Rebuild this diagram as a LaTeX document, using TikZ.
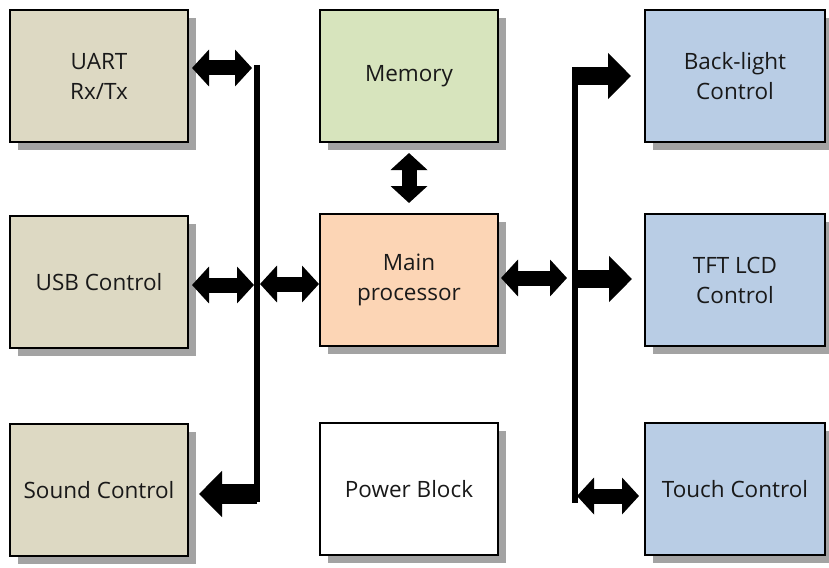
\documentclass[tikz,border=0pt]{standalone}
\usepackage{fontspec}
\setmainfont{Open Sans}
\usetikzlibrary{positioning,calc,arrows.meta,shadows}
\definecolor{boxtan}{HTML}{DDD9C3}
\definecolor{boxgreen}{HTML}{D7E4BD}
\definecolor{boxpeach}{HTML}{FCD5B5}
\definecolor{boxblue}{HTML}{B9CDE5}

\begin{document}
\begin{tikzpicture}[x=1pt,y=-1pt,
block/.style={draw,line width=2pt,minimum width=178pt,minimum height=132pt,align=center,
  font=\fontsize{22.5}{30}\selectfont,text=black!90,
  drop shadow={shadow xshift=8pt,shadow yshift=-8pt,fill=black!40,opacity=0.9}},
bus/.style={line width=6pt},
dbl/.style={line width=15pt,{Triangle[width=36pt,length=17pt]}-{Triangle[width=36pt,length=17pt]}},
sgl/.style={line width=18pt,-{Triangle[width=45pt,length=23pt]}}]
\useasboundingbox (0,0) rectangle (829,567);
% nodes
  \node[block,fill=boxtan] (uart) at (99,76) {UART\\Rx/Tx};
  \node[block,fill=boxtan] (usb) [below=72pt of uart] {USB Control};
  \node[block,fill=boxtan] (sound) [below=74pt of usb] {Sound Control};
  \node[block,fill=boxgreen] (mem) [right=130pt of uart] {Memory};
  \node[block,fill=boxpeach] (main) [below=70pt of mem] {Main\\processor};
  \node[block,fill=white] (power) [below=75pt of main] {Power Block};
  \node[block,fill=boxblue,minimum width=180pt] (light) [right=145pt of mem] {Back-light\\Control};
  \node[block,fill=boxblue,minimum width=180pt] (tft) [below=70pt of light] {TFT LCD\\Control};
  \node[block,fill=boxblue,minimum width=180pt] (touch) [below=75pt of tft] {Touch Control};
% buses
  \coordinate (lt) at (257,65);
  \coordinate (lb) at (257,502);
  \coordinate (rt) at (575,67);
  \coordinate (rb) at (575,503);
  \draw[bus] (lt) -- (lb);
  \draw[bus] (rt) -- (rb);
% edges
  \draw[dbl] ($(uart.east)+(3,-8)$) -- ($(uart.east -| lt)+(-5,-8)$);
  \draw[dbl] ($(usb.east)+(3,3)$) -- ($(usb.east -| lt)+(-3,3)$);
  \draw[dbl] ($(main.west -| lt)+(3,4)$) -- ($(main.west)+(0,4)$);
  \draw[sgl,line width=20pt] ($(sound.east -| lb)+(0,4)$) -- ($(sound.east)+(10,4)$);
  \draw[dbl] ($(mem.south)+(0,10)$) -- ($(main.north)+(0,-10)$);
  \draw[dbl] ($(main.east)+(2,-2)$) -- ($(main.east -| rt)+(-8,-2)$);
  \draw[sgl] (light.west -| rt) -- ($(light.west)+(-13,0)$);
  \draw[sgl] ($(tft.west -| rt)+(0,-1)$) -- ($(tft.west)+(-12,-1)$);
  \draw[dbl] ($(touch.west -| rt)+(2,7)$) -- ($(touch.west)+(-5,7)$);
\end{tikzpicture}
\end{document}
